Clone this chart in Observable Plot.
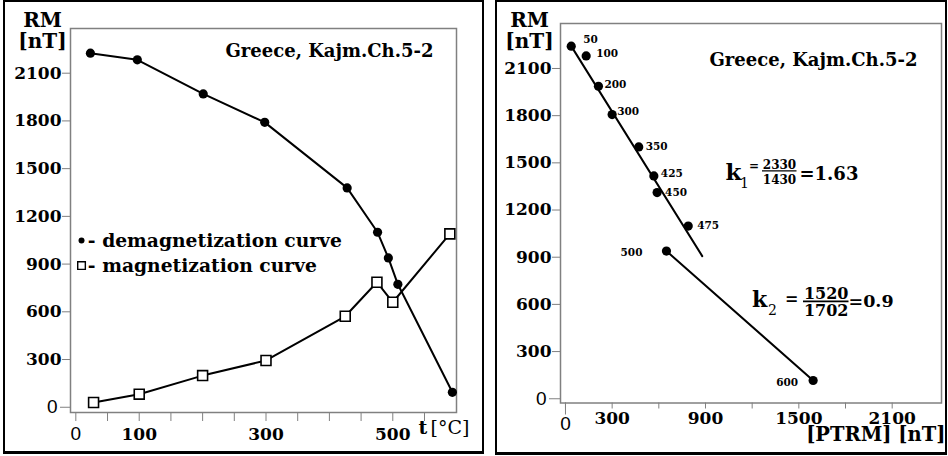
<!DOCTYPE html>
<html><head><meta charset="utf-8">
<script src="https://cdn.jsdelivr.net/npm/d3@7"></script>
<script src="https://cdn.jsdelivr.net/npm/@observablehq/plot@0.6"></script>
<style>
body{margin:0;background:#fff;}
#wrap{position:relative;width:948px;height:456px;overflow:hidden;background:#fff;}
.panel{position:absolute;top:0;}
.border{position:absolute;border:2px solid #000;border-bottom-width:3px;box-sizing:border-box;pointer-events:none;}
</style></head><body><div id="wrap">
<div class="border" style="left:3px;top:0;width:481px;height:454px"></div>
<div class="border" style="left:495px;top:0;width:452px;height:455px"></div>
</div>
<script>
// ---------- Left panel: thermal demagnetization / magnetization ----------
const demagT  = [23, 97, 201, 298, 428, 476, 493, 508, 594];
const demagRM = [2226, 2184, 1970, 1791, 1379, 1100, 939, 773, 94];
const magT    = [28, 100, 200, 300, 425, 475, 500, 590];
const magRM   = [30, 82, 199, 294, 572, 786, 660, 1090];
const leftYTicks  = [300, 600, 900, 1200, 1500, 1800, 2100];
const leftXLabels = [100, 300, 500];
const leftXTicks  = [0, 50, 100, 150, 200, 250, 300, 350, 400, 450, 500, 550];
const legendLabels = ["- demagnetization curve", "- magnetization curve"];
const title = "Greece, Kajm.Ch.5-2";

// ---------- Right panel: Arai plot ----------
const araiLabels = ["50", "100", "200", "300", "350", "425", "450", "475", "500", "600"];
const araiPTRM   = [37, 133, 212, 300, 471, 568, 589, 789, 649, 1592];
const araiRM     = [2242, 2180, 1987, 1807, 1601, 1417, 1311, 1098, 939, 116];
const fit1PTRM = [37, 879];
const fit1RM   = [2242, 907];
const fit2PTRM = [649, 1592];
const fit2RM   = [939, 116];
const rightYTicks  = [300, 600, 900, 1200, 1500, 1800, 2100];
const rightXTicks  = [0, 300, 600, 900, 1200, 1500, 1800, 2100];
const rightXLabels = [300, 900, 1500, 2100];
const k1 = {num: "2330", den: "1430", val: "1.63"};
const k2 = {num: "1520", den: "1702", val: "0.9"};

const FONT = "DejaVu Serif";
const SANS = "Liberation Sans";
const GRID = "#808080";
const fmt = d => String(d);

const demag = demagT.map((t, i) => ({t, rm: demagRM[i]}));
const mag = magT.map((t, i) => ({t, rm: magRM[i]}));

const left = Plot.plot({
  width: 484, height: 456,
  marginLeft: 70, marginTop: 28, marginRight: 28, marginBottom: 44,
  x: {domain: [-8.4, 600.5]},
  y: {domain: [-33, 2381]},
  style: {fontFamily: FONT, fontWeight: "bold", fontSize: "17px", color: "#000", background: "transparent", overflow: "visible"},
  marks: [
    Plot.frame({stroke: GRID, strokeWidth: 1.5}),
    Plot.axisY(leftYTicks, {tickSize: 8, tickPadding: 1, stroke: GRID, label: null, tickFormat: fmt}),
    Plot.axisY([0], {tickSize: 10, tickPadding: 3, stroke: GRID, label: null, tickFormat: fmt, fontFamily: SANS, fontWeight: "normal", fontSize: 19}),
    Plot.axisX(leftXTicks, {tickSize: 9, stroke: GRID, tickFormat: () => "", label: null}),
    Plot.axisX(leftXLabels, {tickSize: 0, tickPadding: 15, label: null, tickFormat: fmt}),
    Plot.axisX([0], {tickSize: 0, tickPadding: 14, label: null, tickFormat: fmt, fontFamily: SANS, fontWeight: "normal", fontSize: 19}),
    Plot.text(["t"], {frameAnchor: "bottom-right", dx: -38, dy: 21, textAnchor: "start", fontSize: 19}),
    Plot.text(["[°C]"], {frameAnchor: "bottom-right", dx: -26, dy: 21, textAnchor: "start", fontSize: 19, fontWeight: "normal"}),
    Plot.text(["RM\n[nT]"], {frameAnchor: "top-left", dx: -28, dy: 2, textAnchor: "middle", lineAnchor: "middle", lineHeight: 1.05, fontSize: 20}),
    Plot.text([title], {frameAnchor: "top-right", dx: -23, dy: 16, textAnchor: "end", fontSize: 18}),
    Plot.line(mag, {x: "t", y: "rm", stroke: "#000", strokeWidth: 2}),
    Plot.line(demag, {x: "t", y: "rm", stroke: "#000", strokeWidth: 2}),
    Plot.dot(mag, {x: "t", y: "rm", symbol: "square", r: 5.6, fill: "#fff", stroke: "#000", strokeWidth: 1.6}),
    Plot.dot(demag, {x: "t", y: "rm", r: 4.6, fill: "#000"}),
    // legend
    Plot.dot([0], {x: 9, y: 1048, r: 3, fill: "#000"}),
    Plot.dot([0], {x: 9, y: 891, symbol: "square", r: 4.3, fill: "#fff", stroke: "#000", strokeWidth: 1.4}),
    Plot.text([legendLabels[0]], {x: 19, y: 1048, textAnchor: "start", fontSize: 18.7}),
    Plot.text([legendLabels[1]], {x: 19, y: 891, textAnchor: "start", fontSize: 18.7})
  ]
});
left.classList.add("panel");
left.style.left = "0px";

const arai = araiLabels.map((label, i) => ({label, ptrm: araiPTRM[i], rm: araiRM[i]}));
const labelPlace = [
  [12, -7, "start"], [10, -2, "start"], [6, -2, "start"], [5, -3, "start"], [7, 0, "start"],
  [7, -2, "start"], [8, 0, "start"], [9, 0, "start"], [-24, 2, "end"], [-15, 2, "end"]
];
const px = v => (v - 565) / 0.15556;      // annotation helpers: pixel → data (right panel)
const py = v => (398.3 - v) / 0.15714;

const right = Plot.plot({
  width: 473, height: 456,
  marginLeft: 85, marginTop: 23, marginRight: 7, marginBottom: 53.5,
  x: {domain: [-32, 2417]},
  y: {domain: [-27, 2386]},
  style: {fontFamily: FONT, fontWeight: "bold", fontSize: "17px", color: "#000", background: "transparent", overflow: "visible"},
  marks: [
    Plot.frame({stroke: GRID, strokeWidth: 1.5}),
    Plot.axisY(rightYTicks, {tickSize: 8, tickPadding: 1, stroke: GRID, label: null, tickFormat: fmt}),
    Plot.axisY([0], {tickSize: 11, tickPadding: 3, stroke: GRID, label: null, tickFormat: fmt, fontFamily: SANS, fontWeight: "normal", fontSize: 19}),
    Plot.axisX(rightXTicks, {tickSize: 6, stroke: GRID, tickFormat: () => "", label: null}),
    Plot.axisX([0], {tickSize: 12, stroke: GRID, tickFormat: () => "", label: null}),
    Plot.axisX(rightXLabels, {tickSize: 0, tickPadding: 9, label: null, tickFormat: fmt}),
    Plot.axisX([0], {tickSize: 0, tickPadding: 13, label: null, tickFormat: fmt, fontFamily: SANS, fontWeight: "normal", fontSize: 19}),
    Plot.text(["[PTRM] [nT]"], {frameAnchor: "bottom-right", dx: 4, dy: 38, textAnchor: "end", fontSize: 19.5}),
    Plot.text(["RM\n[nT]"], {frameAnchor: "top-left", dx: -31, dy: 7, textAnchor: "middle", lineAnchor: "middle", lineHeight: 1.05, fontSize: 20}),
    Plot.text([title], {frameAnchor: "top-right", dx: -24, dy: 30, textAnchor: "end", fontSize: 18}),
    Plot.line(fit1PTRM.map((x, i) => ({x, y: fit1RM[i]})), {x: "x", y: "y", stroke: "#000", strokeWidth: 2}),
    Plot.line(fit2PTRM.map((x, i) => ({x, y: fit2RM[i]})), {x: "x", y: "y", stroke: "#000", strokeWidth: 2}),
    Plot.dot(arai, {x: "ptrm", y: "rm", r: 4.6, fill: "#000"}),
    ...arai.map((d, i) => Plot.text([d], {x: "ptrm", y: "rm", text: "label", dx: labelPlace[i][0], dy: labelPlace[i][1], textAnchor: labelPlace[i][2], fontSize: 10.5})),
    // k1 = 2330/1430 = 1.63
    Plot.text(["k"], {x: px(725), y: py(179.5), textAnchor: "start", lineAnchor: "bottom", fontSize: 23}),
    Plot.text(["1"], {x: px(739.5), y: py(187.5), textAnchor: "start", lineAnchor: "bottom", fontSize: 14, fontWeight: "normal"}),
    Plot.text(["="], {x: px(748.5), y: py(169.5), textAnchor: "start", lineAnchor: "bottom", fontSize: 12}),
    Plot.text([k1.num], {x: px(779), y: py(168.5), textAnchor: "middle", lineAnchor: "bottom", fontSize: 12}),
    Plot.ruleY([py(170.7)], {x1: px(762), x2: px(796.5), stroke: "#000", strokeWidth: 1.3}),
    Plot.text([k1.den], {x: px(779), y: py(183.5), textAnchor: "middle", lineAnchor: "bottom", fontSize: 12}),
    Plot.text(["=" + k1.val], {x: px(799), y: py(179.5), textAnchor: "start", lineAnchor: "bottom", fontSize: 18}),
    // k2 = 1520/1702 = 0.9
    Plot.text(["k"], {x: px(751.5), y: py(306.7), textAnchor: "start", lineAnchor: "bottom", fontSize: 22}),
    Plot.text(["2"], {x: px(767.5), y: py(314.5), textAnchor: "start", lineAnchor: "bottom", fontSize: 14, fontWeight: "normal"}),
    Plot.text(["="], {x: px(784.5), y: py(303.5), textAnchor: "start", lineAnchor: "bottom", fontSize: 16}),
    Plot.text([k2.num], {x: px(825.7), y: py(299), textAnchor: "middle", lineAnchor: "bottom", fontSize: 16}),
    Plot.ruleY([py(301)], {x1: px(803), x2: px(848.5), stroke: "#000", strokeWidth: 1.6}),
    Plot.text([k2.den], {x: px(825.7), y: py(315.5), textAnchor: "middle", lineAnchor: "bottom", fontSize: 16}),
    Plot.text(["=" + k2.val], {x: px(848), y: py(306.2), textAnchor: "start", lineAnchor: "bottom", fontSize: 17.5})
  ]
});
right.classList.add("panel");
right.style.left = "475px";

const wrap = document.getElementById("wrap");
wrap.insertBefore(right, wrap.firstChild);
wrap.insertBefore(left, wrap.firstChild);
</script>
</body></html>
